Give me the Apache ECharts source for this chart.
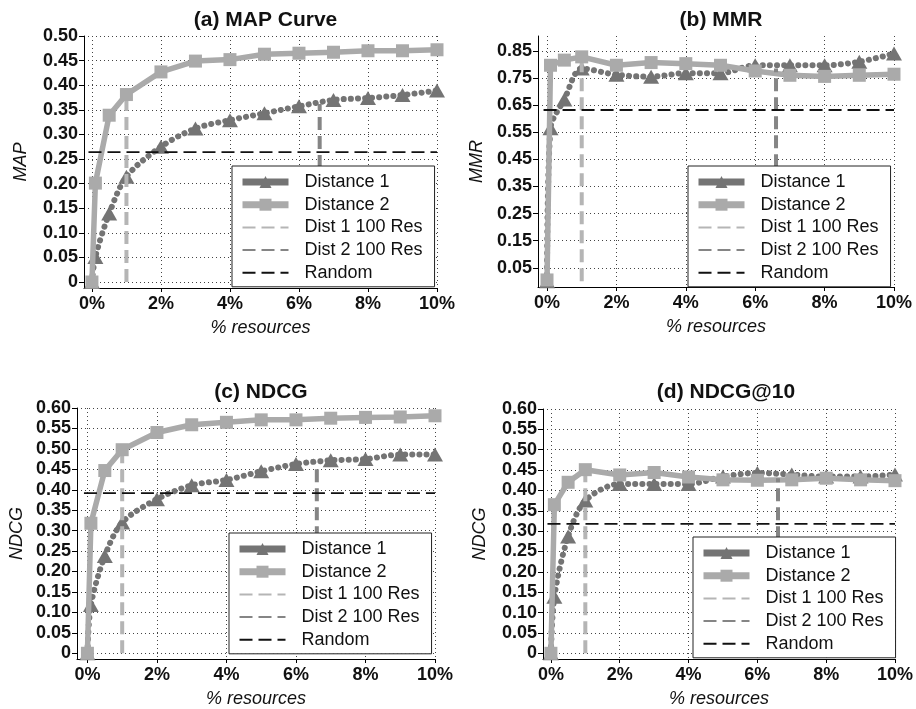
<!DOCTYPE html>
<html>
<head>
<meta charset="utf-8">
<script src="https://cdn.jsdelivr.net/npm/echarts@6/dist/echarts.min.js"></script>
<style>
  html, body { margin: 0; padding: 0; background: #fff; }
  #chart { width: 916px; height: 709px; }
</style>
</head>
<body>
<div id="chart"></div>
<script>
// x positions (% of resources)
const xPct = [0, 0.1, 0.5, 1, 2, 3, 4, 5, 6, 7, 8, 9, 10];
const xTicks = [0, 2, 4, 6, 8, 10];
// where the 100-resource cut-off lines sit (dist 1, dist 2)
const cutX = [1, 6.6];

// (a) MAP
const mapDist1 = [0, 0.051, 0.139, 0.214, 0.275, 0.312, 0.329, 0.343, 0.357, 0.37, 0.374, 0.38, 0.389];
const mapDist2 = [0, 0.201, 0.339, 0.381, 0.427, 0.449, 0.452, 0.463, 0.465, 0.467, 0.47, 0.47, 0.472];
const mapRandom = 0.264;
const mapCutTop = [0.381, 0.362];
const mapTicks = [0, 0.05, 0.1, 0.15, 0.2, 0.25, 0.3, 0.35, 0.4, 0.45, 0.5];

// (b) MMR
const mmrDist1 = [0, 0.565, 0.671, 0.785, 0.762, 0.755, 0.768, 0.768, 0.797, 0.797, 0.797, 0.81, 0.84];
const mmrDist2 = [0.005, 0.797, 0.816, 0.828, 0.797, 0.807, 0.803, 0.797, 0.776, 0.76, 0.756, 0.76, 0.764];
const mmrRandom = 0.632;
const mmrCutTop = [0.825, 0.785];
const mmrTicks = [0.05, 0.15, 0.25, 0.35, 0.45, 0.55, 0.65, 0.75, 0.85];

// (c) NDCG
const ndcgDist1 = [0, 0.118, 0.238, 0.32, 0.377, 0.411, 0.424, 0.445, 0.463, 0.472, 0.475, 0.486, 0.486];
const ndcgDist2 = [0, 0.318, 0.447, 0.498, 0.54, 0.559, 0.565, 0.571, 0.571, 0.575, 0.577, 0.578, 0.581];
const ndcgRandom = 0.392;
const ndcgCutTop = [0.498, 0.465];
const ndcgTicks = [0, 0.05, 0.1, 0.15, 0.2, 0.25, 0.3, 0.35, 0.4, 0.45, 0.5, 0.55, 0.6];

// (d) NDCG@10
const ndcg10Dist1 = [0, 0.139, 0.287, 0.375, 0.416, 0.416, 0.416, 0.434, 0.443, 0.439, 0.434, 0.434, 0.439];
const ndcg10Dist2 = [0, 0.365, 0.42, 0.451, 0.438, 0.444, 0.433, 0.426, 0.425, 0.426, 0.43, 0.426, 0.424];
const ndcg10Random = 0.318;
const ndcg10CutTop = [0.451, 0.43];

const FONT = "'Liberation Sans', Arial, Helvetica, sans-serif";
const C_D1 = '#747474';
const C_D2 = '#aaaaaa';
const C_CUT1 = '#b5b5b5';
const C_CUT2 = '#858585';

const panels = [
  { title: '(a) MAP Curve', yName: 'MAP', d1: mapDist1, d2: mapDist2, random: mapRandom, cutTop: mapCutTop, ticks: mapTicks,
    grid: { left: 84, top: 36, width: 353, height: 252 }, yMin: -0.0122, yMax: 0.5, xMin: -0.23,
    legend: { left: 232, top: 166 }, nameGap: 54, titleTop: 5 },
  { title: '(b) MMR', yName: 'MMR', d1: mmrDist1, d2: mmrDist2, random: mmrRandom, cutTop: mmrCutTop, ticks: mmrTicks,
    grid: { left: 538, top: 36, width: 356, height: 251 }, yMin: -0.021, yMax: 0.905, xMin: -0.26,
    legend: { left: 688, top: 166 }, nameGap: 52, titleTop: 5 },
  { title: '(c) NDCG', yName: 'NDCG', d1: ndcgDist1, d2: ndcgDist2, random: ndcgRandom, cutTop: ndcgCutTop, ticks: ndcgTicks,
    grid: { left: 77, top: 408, width: 358, height: 251 }, yMin: -0.014, yMax: 0.6, xMin: -0.3,
    legend: { left: 229, top: 533 }, nameGap: 51, titleTop: 377 },
  { title: '(d) NDCG@10', yName: 'NDCG', d1: ndcg10Dist1, d2: ndcg10Dist2, random: ndcg10Random, cutTop: ndcg10CutTop, ticks: ndcgTicks,
    grid: { left: 543, top: 409, width: 356, height: 250 }, yMin: -0.014, yMax: 0.6, xMin: -0.23,
    legend: { left: 693, top: 537 }, nameGap: 54, titleTop: 377 }
];

const legendData = [
  { name: 'Distance 1', lineStyle: { type: 'solid', width: 7, cap: 'butt' } },
  { name: 'Distance 2', lineStyle: { width: 7 } },
  { name: 'Dist 1 100 Res', itemStyle: { opacity: 0 } },
  { name: 'Dist 2 100 Res', itemStyle: { opacity: 0 } },
  { name: 'Random', itemStyle: { opacity: 0 } }
];

const gridLine = { show: true, lineStyle: { type: [1, 3], color: '#444', width: 1 } };
const tickFont = { fontSize: 18, fontWeight: 'bold', color: '#111', fontFamily: FONT };
const nameFont = { fontSize: 18, fontStyle: 'italic', color: '#111', fontFamily: FONT };

let option = {
  animation: false,
  backgroundColor: '#fff',
  title: [], grid: [], xAxis: [], yAxis: [], legend: [], series: []
};

panels.forEach((p, i) => {
  option.title.push({
    text: p.title,
    left: p.grid.left + p.grid.width / 2,
    top: p.titleTop,
    textAlign: 'center',
    textStyle: { fontSize: 21, fontWeight: 'bold', color: '#111', fontFamily: FONT }
  });
  option.grid.push(p.grid);
  option.xAxis.push({
    gridIndex: i,
    type: 'value',
    min: p.xMin,
    max: 10,
    axisLine: { show: true, onZero: false, lineStyle: { color: '#000', width: 1 } },
    axisTick: { show: true, customValues: xTicks, length: 4, lineStyle: { color: '#000' } },
    axisLabel: Object.assign({ customValues: xTicks, margin: 7, formatter: v => v + '%' }, tickFont),
    splitLine: gridLine,
    name: '% resources',
    nameLocation: 'middle',
    nameGap: 31,
    nameTextStyle: nameFont
  });
  option.yAxis.push({
    gridIndex: i,
    type: 'value',
    min: p.yMin,
    max: p.yMax,
    axisLine: { show: true, onZero: false, lineStyle: { color: '#000', width: 1 } },
    axisTick: { show: true, customValues: p.ticks, length: 5, lineStyle: { color: '#000' } },
    axisLabel: Object.assign({ customValues: p.ticks, margin: 6, formatter: v => (v === 0 ? '0' : v.toFixed(2)) }, tickFont),
    splitLine: gridLine,
    name: p.yName,
    nameLocation: 'middle',
    nameGap: p.nameGap,
    nameTextStyle: nameFont
  });
  option.legend.push({
    left: p.legend.left,
    top: p.legend.top,
    z: 10,
    orient: 'vertical',
    backgroundColor: '#fff',
    borderColor: '#222',
    borderWidth: 1,
    borderRadius: 0,
    padding: [6, 12, 4, 7],
    itemWidth: 46,
    itemHeight: 15,
    itemGap: 2.7,
    selectedMode: false,
    textStyle: { fontSize: 18, color: '#111', fontFamily: FONT, lineHeight: 20, padding: [0, 0, 0, 11] },
    data: legendData
  });

  option.series.push(
    {
      name: 'Distance 1', type: 'line', xAxisIndex: i, yAxisIndex: i,
      data: xPct.map((x, k) => [x, p.d1[k]]),
      smooth: 0.3,
      symbol: 'triangle', symbolSize: [16, 14],
      color: C_D1,
      lineStyle: { width: 6, type: [0.1, 7], cap: 'round', color: C_D1 },
      itemStyle: { color: C_D1 },
      z: 2
    },
    {
      name: 'Distance 2', type: 'line', xAxisIndex: i, yAxisIndex: i,
      data: xPct.map((x, k) => [x, p.d2[k]]),
      symbol: 'rect', symbolSize: 13,
      color: C_D2,
      lineStyle: { width: 5.5, color: C_D2 },
      itemStyle: { color: C_D2 },
      z: 3
    },
    {
      name: 'Dist 1 100 Res', type: 'line', xAxisIndex: i, yAxisIndex: i,
      data: [[cutX[0], 0], [cutX[0], p.cutTop[0]]],
      symbol: 'none', color: C_CUT1,
      lineStyle: { width: 4, type: [13, 6], color: C_CUT1 },
      z: 3
    },
    {
      name: 'Dist 2 100 Res', type: 'line', xAxisIndex: i, yAxisIndex: i,
      data: [[cutX[1], 0], [cutX[1], p.cutTop[1]]],
      symbol: 'none', color: C_CUT2,
      lineStyle: { width: 4, type: [13, 6], color: C_CUT2 },
      z: 3
    },
    {
      name: 'Random', type: 'line', xAxisIndex: i, yAxisIndex: i,
      data: [[-0.1, p.random], [10, p.random]],
      symbol: 'none', color: '#111',
      lineStyle: { width: 1.8, type: [13, 6], color: '#111' },
      z: 3
    }
  );
});

const chart = echarts.init(document.getElementById('chart'));
chart.setOption(option);
window.addEventListener('resize', () => chart.resize());
</script>
</body>
</html>
